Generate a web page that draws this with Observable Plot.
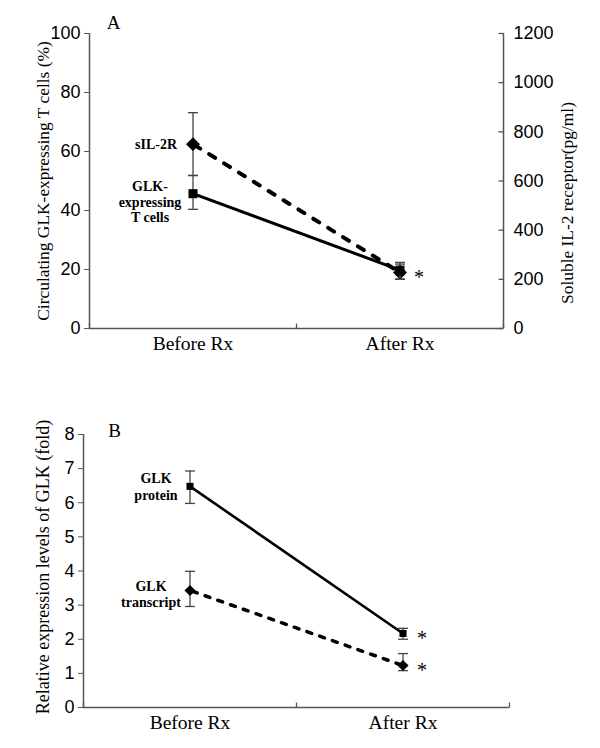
<!DOCTYPE html>
<html>
<head>
<meta charset="utf-8">
<script src="https://cdn.jsdelivr.net/npm/d3@7"></script>
<script src="https://cdn.jsdelivr.net/npm/@observablehq/plot@0.6"></script>
<style>
  html, body { margin: 0; padding: 0; background: #fff; }
  #wrap { position: relative; width: 600px; height: 748px; overflow: hidden; }
  #wrap svg { position: absolute; left: 0; overflow: visible; }
</style>
</head>
<body>
<div id="wrap"></div>
<script>
// ---------- data ----------
const categories = ["Before Rx", "After Rx"];

// Panel A
const glkCells = [45.7, 19.8];          // % (left axis)
const glkCellsLo = [40.4, 16.8];
const glkCellsHi = [51.9, 22.4];
const sil2r = [750, 228];               // pg/ml (right axis)
const sil2rLo = [622, 200];
const sil2rHi = [878, 262];
const sigA = [false, true];
const leftTicksA = [0, 20, 40, 60, 80, 100];
const rightTicksA = [0, 200, 400, 600, 800, 1000, 1200];
const leftMaxA = 100, rightMaxA = 1200;
const labelsA = ["sIL-2R", "GLK-\nexpressing\nT cells"];
const titleLeftA = "Circulating GLK-expressing T cells (%)";
const titleRightA = "Soluble IL-2 receptor(pg/ml)";

// Panel B
const glkProtein = [6.48, 2.17];
const glkProteinLo = [5.98, 2.00];
const glkProteinHi = [6.93, 2.32];
const sigProtein = [false, true];
const glkTranscript = [3.43, 1.23];
const glkTranscriptLo = [2.96, 1.08];
const glkTranscriptHi = [3.99, 1.58];
const sigTranscript = [false, true];
const ticksB = [0, 1, 2, 3, 4, 5, 6, 7, 8];
const labelsB = ["GLK\nprotein", "GLK\ntranscript"];
const titleB = "Relative expression levels of GLK (fold)";

// ---------- helpers ----------
const serif = "'Liberation Serif', 'Times New Roman', serif";
const sans = "'Liberation Sans', Arial, sans-serif";
const axisGray = "#555";
const catPos = c => categories.indexOf(c) + 0.5; // centre of category band on [0,2]
const bandEdges = [0, 1, 2];

// custom symbols: error-bar cap, inward tick marks
const cap = { draw(ctx, size) { const w = Math.sqrt(size) / 2; ctx.moveTo(-w, 0); ctx.lineTo(w, 0); } };
const tickUp = { draw(ctx, size) { ctx.moveTo(0, 0); ctx.lineTo(0, -Math.sqrt(size) / 2); } };
const tickLeft = { draw(ctx, size) { ctx.moveTo(0, 0); ctx.lineTo(-Math.sqrt(size) / 2, 0); } };

function rows(vals, lo, hi, sig, scale = 1) {
  return categories.map((c, i) => ({ cat: c, v: vals[i] / scale, lo: lo[i] / scale, hi: hi[i] / scale, sig: sig[i] }));
}

function seriesMarks(data, { symbol, r, dash, dashOffset = 0, width }) {
  return [
    Plot.ruleX(data, { x: d => catPos(d.cat), y1: "lo", y2: "hi", stroke: "#444", strokeWidth: 1.3 }),
    Plot.dot(data, { x: d => catPos(d.cat), y: "lo", symbol: cap, r: 5.6, fill: "none", stroke: "#444", strokeWidth: 1.3 }),
    Plot.dot(data, { x: d => catPos(d.cat), y: "hi", symbol: cap, r: 5.6, fill: "none", stroke: "#444", strokeWidth: 1.3 }),
    Plot.line(data, { x: d => catPos(d.cat), y: "v", stroke: "black", strokeWidth: width, strokeDasharray: dash, strokeDashoffset: dashOffset }),
    Plot.dot(data, { x: d => catPos(d.cat), y: "v", symbol, r, fill: "black", stroke: "none" }),
    Plot.text(data.filter(d => d.sig), { x: d => catPos(d.cat), y: "v", text: () => "*", dx: 14, dy: 5, fontSize: 20, fontFamily: serif, textAnchor: "start" })
  ];
}

function catAxes() {
  return [
    Plot.ruleY([0], { stroke: axisGray, strokeWidth: 1.5 }),
    Plot.ruleX([0], { stroke: axisGray, strokeWidth: 1.5 }),
    Plot.dot(bandEdges, { x: d => d, y: () => 0, symbol: tickUp, r: 5.6, fill: "none", stroke: axisGray, strokeWidth: 1.3 }),
    Plot.axisX({ ticks: categories.map(catPos), tickSize: 0, tickPadding: 8, tickFormat: p => categories[Math.round(p - 0.5)], fontSize: 19.5, fontFamily: serif, fill: "black", label: null })
  ];
}

// ---------- Panel A ----------
const ratioA = rightMaxA / leftMaxA;
const dataCells = rows(glkCells, glkCellsLo, glkCellsHi, [false, false]);
const dataSil = rows(sil2r, sil2rLo, sil2rHi, sigA, ratioA);

const plotA = Plot.plot({
  width: 600, height: 370,
  marginLeft: 89, marginRight: 97, marginTop: 33, marginBottom: 42,
  style: { fontFamily: sans, background: "white", overflow: "visible" },
  x: { domain: [0, 2], axis: null },
  y: { domain: [0, leftMaxA], axis: null },
  marks: [
    ...catAxes(),
    Plot.ruleX([2], { stroke: axisGray, strokeWidth: 1.5 }),
    Plot.axisY({ anchor: "left", ticks: leftTicksA, tickSize: 5, tickPadding: 4, fontSize: 18, stroke: axisGray, fill: "black", label: null }),
    Plot.dot(rightTicksA, { x: () => 2, y: t => t / ratioA, symbol: tickLeft, r: 5.6, fill: "none", stroke: axisGray, strokeWidth: 1.3 }),
    Plot.axisY({ anchor: "right", ticks: rightTicksA.map(t => t / ratioA), tickFormat: t => String(Math.round(t * ratioA)), tickSize: 0, tickPadding: 10, fontSize: 18, fill: "black", label: null }),
    ...seriesMarks(dataSil, { symbol: "diamond2", r: 6.3, dash: "7,10.5", dashOffset: 16, width: 4 }),
    ...seriesMarks(dataCells, { symbol: "square", r: 5.1, dash: null, width: 3 }),
    Plot.text([labelsA[0]], { x: catPos(categories[0]), y: sil2r[0] / ratioA, dx: -16, textAnchor: "end", fontWeight: "bold", fontSize: 14, fontFamily: serif }),
    Plot.text([labelsA[1]], { x: catPos(categories[0]), y: glkCells[0], dx: -43, dy: 8, lineHeight: 1.12, fontWeight: "bold", fontSize: 14, fontFamily: serif }),
    Plot.text(["A"], { frameAnchor: "top-left", textAnchor: "middle", lineAnchor: "middle", dx: 24, dy: -11, fontSize: 19, fontFamily: serif }),
    Plot.text([titleLeftA], { frameAnchor: "left", textAnchor: "middle", lineAnchor: "middle", rotate: -90, dx: -46, dy: 0, fontSize: 17.4, fontFamily: serif }),
    Plot.text([titleRightA], { frameAnchor: "right", textAnchor: "middle", lineAnchor: "middle", rotate: -90, dx: 64, dy: 22, fontSize: 17.4, fontFamily: serif })
  ]
});
plotA.style.top = "0px";
document.getElementById("wrap").appendChild(plotA);

// ---------- Panel B ----------
const dataProt = rows(glkProtein, glkProteinLo, glkProteinHi, sigProtein);
const dataTrans = rows(glkTranscript, glkTranscriptLo, glkTranscriptHi, sigTranscript);

const plotB = Plot.plot({
  width: 600, height: 378,
  marginLeft: 83, marginRight: 91, marginTop: 64, marginBottom: 41,
  style: { fontFamily: sans, background: "white", overflow: "visible" },
  x: { domain: [0, 2], axis: null },
  y: { domain: [0, 8], axis: null },
  marks: [
    ...catAxes(),
    Plot.axisY({ anchor: "left", ticks: ticksB, tickSize: 5, tickPadding: 4, fontSize: 18, stroke: axisGray, fill: "black", label: null }),
    ...seriesMarks(dataTrans, { symbol: "diamond2", r: 5, dash: "5,8.5", dashOffset: 11, width: 3.5 }),
    ...seriesMarks(dataProt, { symbol: "square", r: 4, dash: null, width: 2.6 }),
    Plot.text([labelsB[0]], { x: catPos(categories[0]), y: glkProtein[0], dx: -34, dy: 0, lineHeight: 1.15, fontWeight: "bold", fontSize: 14, fontFamily: serif }),
    Plot.text([labelsB[1]], { x: catPos(categories[0]), y: glkTranscript[0], dx: -39, dy: 3, lineHeight: 1.15, fontWeight: "bold", fontSize: 14, fontFamily: serif }),
    Plot.text(["B"], { frameAnchor: "top-left", textAnchor: "middle", lineAnchor: "middle", dx: 31, dy: -4, fontSize: 19, fontFamily: serif }),
    Plot.text([titleB], { frameAnchor: "left", textAnchor: "middle", lineAnchor: "middle", rotate: -90, dx: -40, dy: -4, fontSize: 18, fontFamily: serif })
  ]
});
plotB.style.top = "370px";
document.getElementById("wrap").appendChild(plotB);
</script>
</body>
</html>
